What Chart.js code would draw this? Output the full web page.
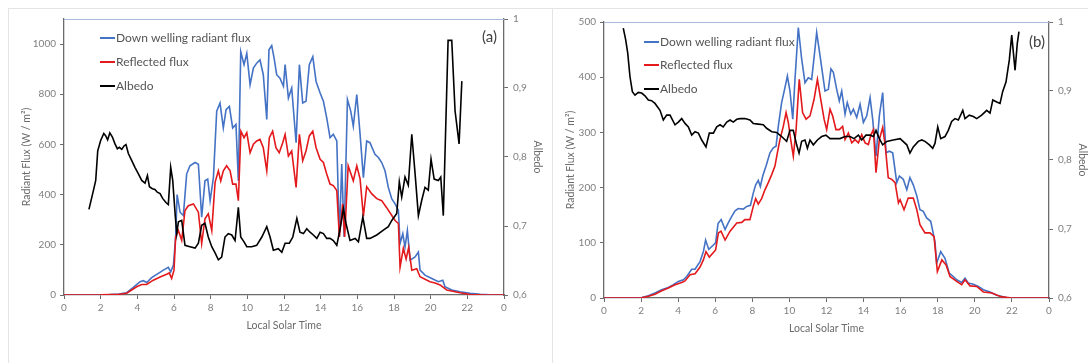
<!DOCTYPE html>
<html>
<head>
<meta charset="utf-8">
<script src="https://cdn.jsdelivr.net/npm/chart.js@4.4.0/dist/chart.umd.min.js"></script>
<style>
  html, body { margin: 0; padding: 0; background: #fff; overflow: hidden; }
  body { width: 1088px; height: 363px; position: relative; }
  .panel { position: absolute; top: 8px; height: 380px; border: 1px solid #e4e4e4; box-sizing: border-box; }
  #panelA { left: 8px; width: 560px; border-right: none; }
  #panelB { left: 552px; width: 560px; }
  canvas { position: absolute; top: 8px; }
  #chartA { left: 8px; }
  #chartB { left: 552px; }
</style>
</head>
<body>
<div class="panel" id="panelA"></div>
<div class="panel" id="panelB"></div>
<canvas id="chartA" width="540" height="355"></canvas>
<canvas id="chartB" width="540" height="355"></canvas>
<script>
// ---- data: [local solar time (h), value] ----
// panel (a)
const downA = [[0,0],[1,0],[2,1],[2.5,2],[3,4],[3.42,9],[3.78,30],[4.15,53],[4.33,57],[4.51,50],[4.78,69],[5.06,82],[5.42,99],[5.69,110],[5.82,92],[5.97,119],[6.09,231],[6.17,400],[6.33,330],[6.51,317],[6.69,482],[6.87,515],[7.15,528],[7.33,521],[7.51,310],[7.69,455],[7.84,462],[7.97,376],[8.15,468],[8.33,733],[8.51,765],[8.69,666],[8.84,739],[9.02,752],[9.2,666],[9.38,680],[9.51,455],[9.64,970],[9.82,918],[9.97,963],[10.15,838],[10.33,904],[10.51,924],[10.69,937],[10.87,878],[11.06,700],[11.18,977],[11.33,994],[11.46,944],[11.6,878],[11.78,864],[11.97,832],[12.06,918],[12.24,785],[12.42,825],[12.66,607],[12.84,918],[13.02,765],[13.2,772],[13.38,918],[13.57,950],[13.75,851],[13.97,805],[14.15,772],[14.33,706],[14.51,627],[14.69,640],[14.88,614],[15.02,231],[15.15,522],[15.28,231],[15.46,779],[15.64,733],[15.78,673],[15.97,799],[16.15,640],[16.33,468],[16.51,614],[16.69,607],[16.96,561],[17.15,548],[17.33,528],[17.51,495],[17.69,429],[17.88,383],[18.06,363],[18.24,337],[18.33,205],[18.48,244],[18.6,191],[18.73,257],[18.88,139],[19.15,152],[19.33,171],[19.42,99],[19.69,79],[20.06,66],[20.42,53],[20.66,59],[20.78,33],[21.15,20],[21.6,13],[22.15,7],[22.7,3],[23.5,0],[24,0]];
const reflA = [[0,0],[2,0.5],[3,3],[3.42,7],[3.96,33],[4.24,42],[4.51,42],[4.87,59],[5.24,72],[5.6,83],[5.74,88],[5.87,66],[6.0,99],[6.09,231],[6.24,257],[6.42,218],[6.6,337],[6.78,356],[7.06,363],[7.33,330],[7.51,205],[7.69,304],[7.87,324],[8.06,257],[8.24,449],[8.42,495],[8.55,455],[8.69,495],[8.87,515],[9.06,495],[9.2,442],[9.38,442],[9.51,376],[9.65,653],[9.82,627],[9.97,647],[10.15,567],[10.33,601],[10.51,614],[10.69,620],[10.87,587],[11.06,495],[11.2,627],[11.38,653],[11.56,587],[11.74,567],[11.93,607],[12.06,640],[12.24,554],[12.42,574],[12.66,429],[12.84,640],[13.02,535],[13.2,574],[13.38,634],[13.57,653],[13.75,587],[13.97,541],[14.15,528],[14.33,482],[14.51,442],[14.69,436],[14.88,416],[15.02,231],[15.2,363],[15.31,231],[15.5,515],[15.78,455],[15.97,515],[16.15,463],[16.33,313],[16.51,432],[16.78,404],[17.06,384],[17.33,376],[17.6,348],[17.88,317],[18.06,297],[18.24,285],[18.33,111],[18.51,186],[18.66,143],[18.8,190],[18.97,99],[19.24,105],[19.42,73],[19.96,53],[20.24,48],[20.51,40],[20.88,20],[21.6,9],[22.15,2],[23,0],[24,0]];
const albedoA = [[1.36,0.724],[1.6,0.751],[1.73,0.766],[1.84,0.809],[2.0,0.824],[2.17,0.834],[2.27,0.831],[2.38,0.825],[2.5,0.835],[2.64,0.829],[2.78,0.819],[2.91,0.812],[3.02,0.814],[3.15,0.811],[3.27,0.816],[3.38,0.818],[3.51,0.805],[3.69,0.795],[3.87,0.785],[4.05,0.776],[4.24,0.766],[4.42,0.762],[4.55,0.773],[4.66,0.757],[4.82,0.754],[4.96,0.753],[5.09,0.749],[5.24,0.747],[5.38,0.740],[5.56,0.734],[5.69,0.731],[5.82,0.785],[5.93,0.766],[6.06,0.718],[6.15,0.689],[6.24,0.706],[6.42,0.708],[6.6,0.672],[6.87,0.670],[7.15,0.668],[7.33,0.675],[7.51,0.701],[7.69,0.704],[7.87,0.684],[8.06,0.670],[8.24,0.661],[8.42,0.651],[8.6,0.655],[8.78,0.684],[8.96,0.689],[9.15,0.687],[9.33,0.679],[9.51,0.727],[9.64,0.684],[9.82,0.677],[9.97,0.670],[10.24,0.670],[10.51,0.672],[10.79,0.684],[11.06,0.699],[11.24,0.684],[11.42,0.665],[11.69,0.667],[11.88,0.662],[12.06,0.675],[12.29,0.675],[12.48,0.684],[12.7,0.711],[12.87,0.691],[13.06,0.689],[13.24,0.696],[13.42,0.691],[13.6,0.687],[13.79,0.682],[13.97,0.691],[14.15,0.689],[14.33,0.682],[14.51,0.682],[14.69,0.679],[14.88,0.672],[15.06,0.696],[15.24,0.725],[15.38,0.704],[15.6,0.679],[15.88,0.682],[16.06,0.677],[16.3,0.713],[16.51,0.682],[16.69,0.682],[17.06,0.687],[17.42,0.694],[17.69,0.699],[17.88,0.708],[18.15,0.718],[18.29,0.764],[18.42,0.742],[18.6,0.771],[18.78,0.759],[18.97,0.833],[19.15,0.776],[19.33,0.715],[19.51,0.737],[19.69,0.756],[19.87,0.752],[20.02,0.797],[20.19,0.768],[20.42,0.766],[20.55,0.771],[20.69,0.715],[20.95,0.969],[21.15,0.969],[21.33,0.867],[21.55,0.819],[21.7,0.910]];

// panel (b)
const downB = [[0,0],[1.3,0],[2.03,1],[2.39,4],[2.75,9],[3.11,15],[3.47,19],[3.74,24],[4.01,30],[4.28,33],[4.46,39],[4.73,52],[4.91,52],[5.18,66],[5.36,84],[5.48,105],[5.65,88],[5.9,96],[6.02,100],[6.15,135],[6.32,142],[6.53,124],[6.7,136],[6.89,148],[7.07,158],[7.24,162],[7.51,161],[7.7,166],[7.9,168],[8.05,190],[8.18,205],[8.32,213],[8.43,202],[8.56,221],[8.74,239],[8.95,263],[9.13,272],[9.28,275],[9.4,311],[9.58,354],[9.76,381],[9.89,402],[10.03,375],[10.18,324],[10.3,396],[10.48,490],[10.66,433],[10.84,390],[11.02,399],[11.2,396],[11.34,439],[11.47,481],[11.6,451],[11.74,418],[11.92,375],[12.1,378],[12.24,415],[12.37,409],[12.55,378],[12.69,357],[12.82,375],[13.0,333],[13.12,354],[13.31,333],[13.45,342],[13.63,327],[13.81,351],[13.99,318],[14.17,330],[14.35,363],[14.49,324],[14.67,257],[14.85,330],[15.03,372],[15.21,263],[15.39,266],[15.57,263],[15.79,209],[15.93,221],[16.14,215],[16.33,196],[16.5,218],[16.68,205],[16.87,185],[17.04,160],[17.22,157],[17.4,145],[17.62,139],[17.85,102],[17.94,63],[18.16,84],[18.39,72],[18.62,45],[18.84,39],[19.02,33],[19.29,28],[19.47,36],[19.65,27],[19.92,25],[20.19,21],[20.46,15],[20.82,11],[21.18,5],[21.72,1],[22.5,0],[24,0]];
const reflB = [[0,0],[1.3,0],[2.03,0.5],[2.4,3],[2.75,7],[3.11,13],[3.47,18],[3.83,24],[4.19,28],[4.37,31],[4.64,42],[4.91,44],[5.18,56],[5.36,69],[5.5,84],[5.68,74],[6.02,87],[6.17,118],[6.31,121],[6.53,105],[6.8,121],[7.16,136],[7.43,137],[7.6,142],[7.87,142],[8.05,166],[8.18,180],[8.32,170],[8.5,180],[8.68,196],[8.86,209],[9.05,224],[9.22,239],[9.35,263],[9.49,287],[9.67,311],[9.82,336],[9.94,318],[10.07,287],[10.21,257],[10.36,305],[10.53,396],[10.71,336],[10.9,324],[11.11,330],[11.33,360],[11.51,396],[11.69,360],[11.87,324],[12.01,305],[12.19,342],[12.33,330],[12.51,305],[12.69,305],[12.87,311],[13.0,287],[13.18,299],[13.36,281],[13.54,287],[13.72,281],[13.9,296],[14.08,281],[14.26,278],[14.4,296],[14.53,305],[14.67,227],[14.85,287],[15.03,309],[15.17,275],[15.33,218],[15.52,215],[15.7,209],[15.88,172],[15.97,178],[16.18,160],[16.41,181],[16.68,181],[16.87,160],[17.04,133],[17.31,118],[17.58,118],[17.8,111],[17.98,48],[18.22,69],[18.45,60],[18.66,39],[19.02,30],[19.29,24],[19.47,33],[19.74,22],[20.1,21],[20.46,11],[20.91,9],[21.45,2],[22,0],[24,0]];
const albedoB = [[1.04,0.991],[1.17,0.974],[1.28,0.955],[1.4,0.921],[1.53,0.899],[1.67,0.894],[1.85,0.898],[2.03,0.897],[2.21,0.893],[2.39,0.887],[2.57,0.886],[2.75,0.882],[3.02,0.872],[3.2,0.858],[3.38,0.865],[3.56,0.865],[3.83,0.851],[4.01,0.855],[4.19,0.860],[4.37,0.853],[4.55,0.848],[4.73,0.836],[4.91,0.841],[5.09,0.839],[5.27,0.829],[5.5,0.819],[5.68,0.839],[5.9,0.839],[6.08,0.848],[6.26,0.851],[6.43,0.848],[6.62,0.855],[6.8,0.858],[6.97,0.855],[7.16,0.859],[7.34,0.860],[7.6,0.860],[7.87,0.858],[8.05,0.853],[8.32,0.852],[8.59,0.851],[8.77,0.846],[9.05,0.841],[9.31,0.840],[9.58,0.834],[9.85,0.827],[10.03,0.843],[10.21,0.843],[10.39,0.822],[10.52,0.810],[10.66,0.827],[10.84,0.829],[10.97,0.817],[11.11,0.829],[11.29,0.822],[11.51,0.829],[11.74,0.834],[11.97,0.836],[12.19,0.831],[12.46,0.831],[12.73,0.831],[13.0,0.834],[13.27,0.834],[13.48,0.831],[13.72,0.836],[13.9,0.829],[14.13,0.836],[14.35,0.836],[14.53,0.834],[14.67,0.843],[14.85,0.831],[15.03,0.822],[15.25,0.827],[15.6,0.829],[15.97,0.831],[16.33,0.822],[16.5,0.810],[16.68,0.819],[16.95,0.827],[17.14,0.829],[17.31,0.827],[17.55,0.822],[17.73,0.817],[17.85,0.824],[18.0,0.848],[18.16,0.831],[18.39,0.834],[18.57,0.843],[18.75,0.856],[18.93,0.860],[19.11,0.858],[19.35,0.872],[19.47,0.860],[19.7,0.865],[19.92,0.863],[20.1,0.860],[20.37,0.865],[20.64,0.872],[20.82,0.868],[20.97,0.887],[21.18,0.884],[21.36,0.882],[21.5,0.899],[21.68,0.913],[21.86,0.945],[21.99,0.981],[22.17,0.930],[22.29,0.969],[22.38,0.986]];

const seriesNames = ['Down welling radiant flux', 'Reflected flux', 'Albedo'];
const seriesColors = ['#4472c4', '#e3191c', '#000000'];

const FONT = 'Lato, "Open Sans", sans-serif';
const axisColor = '#6b6b6b';
const tickColor = '#7f7f7f';
const titleColor = '#6b6b6b';

const toXY = arr => arr.map(p => ({ x: p[0], y: p[1] }));

// legend in the plot area, one entry per row, plus the panel tag and the top frame line
const panelDecor = {
  id: 'panelDecor',
  afterDraw(chart, args, o) {
    const { ctx, chartArea: a } = chart;
    ctx.save();
    ctx.strokeStyle = '#a9bbdc';
    ctx.lineWidth = 1;
    ctx.beginPath();
    ctx.moveTo(a.left, a.top + 0.5);
    ctx.lineTo(a.right, a.top + 0.5);
    ctx.stroke();

    ctx.font = '12px ' + FONT;
    ctx.textBaseline = 'middle';
    chart.data.datasets.forEach((ds, i) => {
      const y = a.top + o.rows[i];
      const x0 = a.left + o.lx;
      ctx.strokeStyle = ds.borderColor;
      ctx.lineWidth = 2;
      ctx.beginPath();
      ctx.moveTo(x0, y);
      ctx.lineTo(x0 + 15, y);
      ctx.stroke();
      ctx.fillStyle = '#555555';
      ctx.textAlign = 'left';
      ctx.fillText(ds.label, x0 + 16, y);
    });

    ctx.font = '15px ' + FONT;
    ctx.fillStyle = '#404040';
    ctx.textAlign = 'right';
    ctx.fillText(o.tag, a.right - o.tagDx, a.top + o.tagDy);
    ctx.restore();
  }
};

function buildChart(id, o) {
  const sets = [o.down, o.refl, o.albedo];
  return new Chart(document.getElementById(id), {
    type: 'line',
    data: {
      datasets: sets.map((d, i) => ({
        label: seriesNames[i],
        data: toXY(d),
        borderColor: seriesColors[i],
        yAxisID: i === 2 ? 'y1' : 'y',
        order: 3 - i
      }))
    },
    options: {
      responsive: false,
      animation: false,
      elements: { point: { radius: 0 }, line: { borderWidth: 1.6, tension: 0 } },
      layout: { padding: o.pad },
      plugins: {
        legend: { display: false },
        tooltip: { enabled: false },
        panelDecor: o.decor
      },
      scales: {
        x: {
          type: 'linear', min: 0, max: 24, position: 'bottom',
          ticks: { stepSize: 2, color: tickColor, font: { family: FONT, size: 10 }, padding: 3,
                   maxRotation: 0, autoSkip: false, callback: v => (v === 24 ? '0' : String(v)) },
          grid: { drawOnChartArea: false, tickLength: 4, color: axisColor },
          border: { color: axisColor, width: 1.3 },
          title: { display: true, text: 'Local Solar Time', color: titleColor,
                   font: { family: FONT, size: 10.5 }, padding: 0 },
          afterFit: s => { s.height = o.xh; }
        },
        y: {
          position: 'left', min: 0, max: o.ymax,
          ticks: { stepSize: o.ystep, color: tickColor, font: { family: FONT, size: 10 }, padding: 4,
                   callback: v => String(v) },
          afterBuildTicks: s => { s.ticks = s.ticks.filter(t => t.value <= o.ylast); },
          grid: { drawOnChartArea: false, tickLength: 4, color: axisColor },
          border: { color: axisColor, width: 1.3 },
          title: { display: true, text: 'Radiant Flux (W / m²)', color: titleColor,
                   font: { family: FONT, size: 10.5 }, padding: 0 },
          afterFit: s => { s.width = o.yw; }
        },
        y1: {
          position: 'right', min: 0.6, max: 1.0,
          ticks: { stepSize: 0.1, color: tickColor, font: { family: FONT, size: 10 }, padding: 5,
                   callback: v => { const r = Math.round(v * 10) / 10; return r === 1 ? '1' : r.toFixed(1).replace('.', ','); } },
          grid: { drawOnChartArea: false, tickLength: 4, color: axisColor },
          border: { color: axisColor, width: 1.3 },
          title: { display: true, text: 'Albedo', color: titleColor,
                   font: { family: FONT, size: 10.5 }, padding: 0 },
          afterFit: s => { s.width = o.y1w; }
        }
      }
    },
    plugins: [panelDecor]
  });
}

buildChart('chartA', {
  down: downA, refl: reflA, albedo: albedoA,
  ymax: 1100, ystep: 200, ylast: 1000,
  pad: { left: 12, top: 10, right: 4.4, bottom: 31.4 },
  yw: 44, y1w: 39.6, xh: 36.6,
  decor: { lx: 36, rows: [19, 43, 67], tag: '(a)', tagDx: 7, tagDy: 18 }
});

buildChart('chartB', {
  down: downB, refl: reflB, albedo: albedoB,
  ymax: 500, ystep: 100, ylast: 500,
  pad: { left: 12.4, top: 14, right: 3.4, bottom: 28.4 },
  yw: 39.6, y1w: 39.6, xh: 36.6,
  decor: { lx: 40, rows: [20, 43, 67], tag: '(b)', tagDx: 4, tagDy: 20 }
});
</script>
</body>
</html>
